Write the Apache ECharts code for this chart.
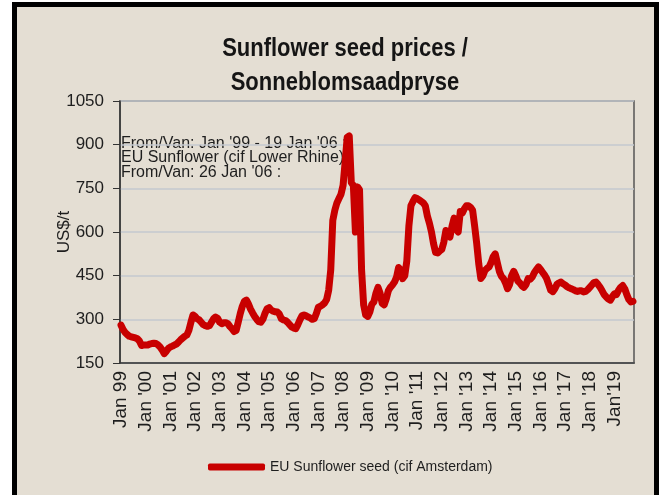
<!DOCTYPE html>
<html>
<head>
<meta charset="utf-8">
<script src="https://cdn.jsdelivr.net/npm/echarts@6/dist/echarts.min.js"></script>
<style>
  html, body { margin: 0; padding: 0; background: #fff; }
  #sunflower { width: 669px; height: 495px; }
</style>
</head>
<body>
<div id="sunflower"></div>
<script>
// monthly prices, US$/t, Jan 1999 - Oct 2019
var prices1999 = [280, 265, 255, 248, 242, 240, 238, 236, 233, 225, 210, 212];
var prices2000 = [212, 212, 215, 217, 218, 217, 212, 205, 195, 182, 190, 200];
var prices2001 = [205, 208, 212, 215, 222, 230, 236, 242, 246, 262, 290, 315];
var prices2002 = [310, 302, 298, 290, 282, 278, 276, 278, 290, 302, 308, 303];
var prices2003 = [290, 285, 288, 288, 285, 275, 268, 258, 262, 290, 320, 345];
var prices2004 = [362, 366, 352, 335, 322, 310, 300, 292, 290, 300, 320, 336];
var prices2005 = [340, 332, 328, 326, 325, 318, 302, 298, 296, 290, 282, 274];
var prices2006 = [270, 268, 282, 298, 312, 315, 312, 308, 305, 300, 302, 320];
var prices2007 = [342, 345, 350, 356, 368, 400, 470, 640, 675, 700, 715, 730];
var prices2008 = [760, 840, 925, 930, 770, 760, 600, 755, 745, 470, 350, 315];
var prices2009 = [310, 325, 352, 360, 390, 410, 390, 355, 350, 370, 398, 410];
var prices2010 = [418, 428, 445, 478, 470, 440, 450, 500, 620, 690, 705, 718];
var prices2011 = [715, 710, 705, 700, 690, 655, 630, 600, 560, 530, 528, 535];
var prices2012 = [540, 565, 605, 590, 583, 620, 648, 610, 600, 670, 665, 680];
var prices2013 = [690, 690, 685, 675, 620, 560, 490, 440, 450, 468, 475, 480];
var prices2014 = [495, 515, 525, 495, 465, 448, 440, 425, 405, 420, 450, 465];
var prices2015 = [450, 432, 425, 415, 410, 420, 440, 438, 445, 460, 470, 480];
var prices2016 = [472, 462, 452, 440, 420, 400, 395, 405, 420, 425, 428, 422];
var prices2017 = [418, 412, 408, 405, 402, 398, 396, 398, 398, 394, 396, 402];
var prices2018 = [410, 418, 426, 428, 420, 410, 398, 385, 377, 370, 366, 378];
var prices2019 = [388, 385, 400, 410, 416, 405, 385, 368, 360, 362];

var years = ['99', "'00", "'01", "'02", "'03", "'04", "'05", "'06", "'07", "'08", "'09",
             "'10", "'11", "'12", "'13", "'14", "'15", "'16", "'17", "'18", "'19"];
var monthNames = ['Jan', 'Feb', 'Mar', 'Apr', 'May', 'Jun', 'Jul', 'Aug', 'Sep', 'Oct', 'Nov', 'Dec'];
var yTicks = [150, 300, 450, 600, 750, 900, 1050];

var allYears = [prices1999, prices2000, prices2001, prices2002, prices2003, prices2004, prices2005,
                prices2006, prices2007, prices2008, prices2009, prices2010, prices2011, prices2012,
                prices2013, prices2014, prices2015, prices2016, prices2017, prices2018, prices2019];

var prices = [];
var months = [];
allYears.forEach(function (arr, y) {
    arr.forEach(function (v, m) {
        prices.push(v);
        // last label in the original has no space
        var sep = (y === 20) ? '' : ' ';
        months.push(monthNames[m] + sep + years[y]);
    });
});

var font = '"Liberation Sans", Arial, sans-serif';
var ink = '#1e1e1e';

var chart = echarts.init(document.getElementById('sunflower'));

var option = {
    backgroundColor: '#e4ded3',
    animation: false,
    textStyle: { fontFamily: font },
    grid: {
        left: 120,
        right: 35,
        top: 101,
        bottom: 132,
        show: true,
        borderColor: '#555',
        borderWidth: 1.5
    },
    graphic: [
        // white outside the frame
        { type: 'rect', shape: { x: 0, y: 0, width: 12, height: 495 }, style: { fill: '#fff' } },
        { type: 'rect', shape: { x: 0, y: 0, width: 669, height: 2 }, style: { fill: '#fff' } },
        { type: 'rect', shape: { x: 659, y: 0, width: 10, height: 495 }, style: { fill: '#fff' } },
        {
            type: 'rect',
            shape: { x: 14.5, y: 4.5, width: 642, height: 600 },
            style: { fill: null, stroke: '#000', lineWidth: 5 }
        },
        {
            type: 'text', x: 345, y: 32, scaleX: 0.88,
            style: {
                text: 'Sunflower seed prices /\nSonneblomsaadpryse',
                textAlign: 'center',
                font: 'bold 25px ' + font,
                fill: '#151515',
                lineHeight: 34
            }
        },
        {
            type: 'text', x: 121, y: 136,
            style: {
                text: "From/Van: Jan '99 - 19 Jan '06 :\nEU Sunflower (cif Lower Rhine)\nFrom/Van: 26 Jan '06 :",
                font: '16px ' + font,
                fill: ink,
                lineHeight: 14.5
            }
        }
    ],
    legend: {
        left: 203,
        top: 455,
        icon: 'roundRect',
        itemWidth: 57,
        itemHeight: 7,
        itemGap: 4,
        textStyle: { fontSize: 14, color: ink, fontFamily: font },
        data: ['EU Sunflower seed (cif Amsterdam)']
    },
    xAxis: {
        type: 'category',
        data: months,
        boundaryGap: true,
        axisLine: { lineStyle: { color: '#333', width: 1.5 } },
        axisTick: { interval: 0, length: 5, lineStyle: { color: '#333' } },
        axisLabel: {
            interval: 11,
            rotate: 90,
            margin: 8,
            fontSize: 19,
            color: ink,
            fontFamily: font
        },
        splitLine: { show: false }
    },
    yAxis: {
        type: 'value',
        name: 'US$/t',
        nameLocation: 'middle',
        nameGap: 47,
        nameMoveOverlap: false,
        nameTextStyle: { fontSize: 17, color: ink, fontFamily: font },
        min: yTicks[0],
        max: yTicks[yTicks.length - 1],
        interval: 150,
        axisLine: { show: true, lineStyle: { color: '#333', width: 1.5 } },
        axisTick: { show: true, length: 7, lineStyle: { color: '#333' } },
        axisLabel: {
            fontSize: 17, color: ink, margin: 16, fontFamily: font,
            formatter: function (v) { return String(v); }
        },
        splitLine: { lineStyle: { color: '#c5c8cf', width: 1.5 } }
    },
    series: [
        {
            name: 'EU Sunflower seed (cif Amsterdam)',
            type: 'line',
            data: prices,
            symbol: 'none',
            itemStyle: { color: '#c80000' },
            lineStyle: { color: '#c80000', width: 7, join: 'round', cap: 'round' }
        }
    ]
};

chart.setOption(option);
</script>
</body>
</html>
